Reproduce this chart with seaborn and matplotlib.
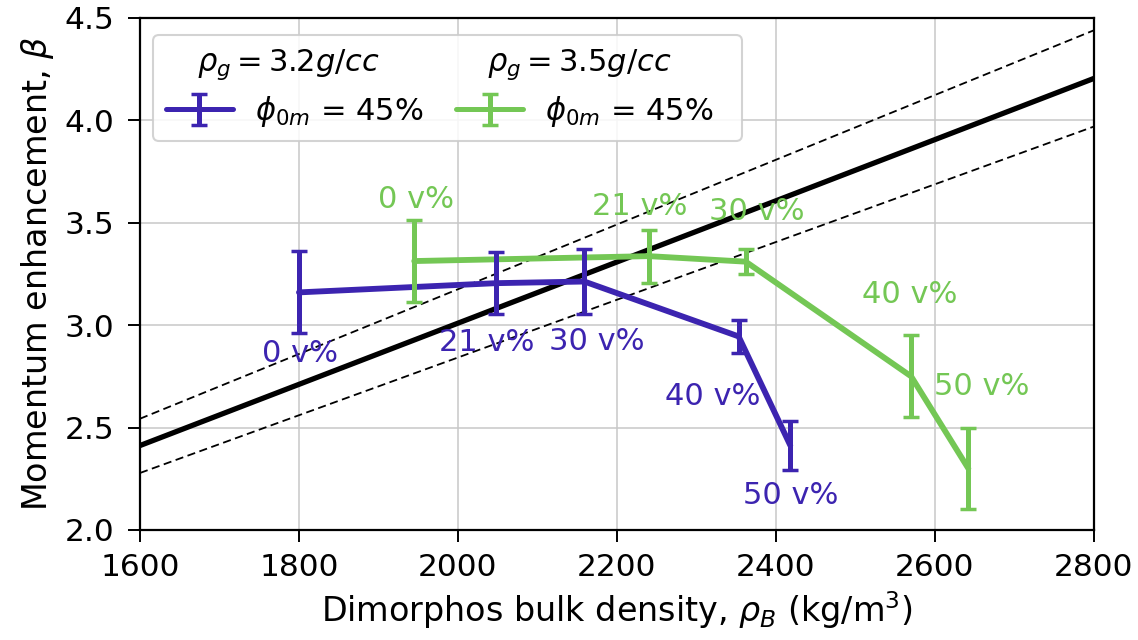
import matplotlib
matplotlib.use("Agg")
import matplotlib.pyplot as plt
import seaborn as sns
import pandas as pd
import numpy as np
from matplotlib.lines import Line2D

# ---------------- data ----------------
blue_density = [1800, 2048, 2159, 2353, 2418]
blue_beta = [3.16, 3.205, 3.213, 2.945, 2.413]
blue_err = [0.20, 0.15, 0.16, 0.08, 0.12]
blue_labels = ["0 v%", "21 v%", "30 v%", "40 v%", "50 v%"]

green_density = [1945, 2240, 2362, 2570, 2642]
green_beta = [3.313, 3.337, 3.31, 2.75, 2.30]
green_err = [0.20, 0.13, 0.06, 0.20, 0.20]
green_labels = ["0 v%", "21 v%", "30 v%", "40 v%", "50 v%"]

ref_density = [1600, 2800]
ref_beta = [2.412, 4.205]
ref_upper = [2.543, 4.44]
ref_lower = [2.278, 3.97]

xticks = [1600, 1800, 2000, 2200, 2400, 2600, 2800]
yticks = [2.0, 2.5, 3.0, 3.5, 4.0, 4.5]

BLUE = "#3C24B0"
GREEN = "#74C755"

sns.set_theme(style="whitegrid")
plt.rcParams.update({
    "font.family": ["DejaVu Sans"],
    "mathtext.fontset": "dejavusans",
    "axes.edgecolor": "black",
    "axes.linewidth": 1.6,
    "grid.color": "#c8c8c8",
    "grid.linewidth": 1.1,
    "xtick.bottom": True,
    "ytick.left": True,
    "xtick.major.size": 8.5,
    "ytick.major.size": 8.5,
    "xtick.major.width": 1.4,
    "ytick.major.width": 1.4,
    "xtick.color": "black",
    "ytick.color": "black",
    "text.color": "black",
    "axes.labelcolor": "black",
})

fig = plt.figure(figsize=(11.38, 6.4), dpi=100)
ax = fig.add_axes([0.123, 0.172, 0.9613 - 0.123, 0.9719 - 0.172])

ref = pd.DataFrame({"x": ref_density, "mid": ref_beta, "up": ref_upper, "lo": ref_lower})
sns.lineplot(data=ref, x="x", y="mid", ax=ax, color="black", lw=3.8, zorder=3)
sns.lineplot(data=ref, x="x", y="up", ax=ax, color="black", lw=1.3, ls=(0, (4.5, 2.5)), zorder=3)
sns.lineplot(data=ref, x="x", y="lo", ax=ax, color="black", lw=1.3, ls=(0, (4.5, 2.5)), zorder=3)

bdf = pd.DataFrame({"x": blue_density, "y": blue_beta})
gdf = pd.DataFrame({"x": green_density, "y": green_beta})
sns.lineplot(data=bdf, x="x", y="y", ax=ax, color=BLUE, lw=4.2, zorder=4, sort=False)
sns.lineplot(data=gdf, x="x", y="y", ax=ax, color=GREEN, lw=4.2, zorder=4, sort=False)
ax.errorbar(blue_density, blue_beta, yerr=blue_err, fmt="none", ecolor=BLUE,
            elinewidth=3.6, capsize=5.5, capthick=2.5, zorder=5)
ax.errorbar(green_density, green_beta, yerr=green_err, fmt="none", ecolor=GREEN,
            elinewidth=3.6, capsize=5.5, capthick=2.5, zorder=5)

FS_ANN = 22
blue_off = [(1, -44), (-6.5, -42.5), (8.6, -43), (-18.4, -43.6), (0, -36.4)]
green_off = [(1.2, 44), (-6.3, 36), (8, 35.8), (-1, 58.6), (9.8, 58.8)]
for x, y, t, o in zip(blue_density, blue_beta, blue_labels, blue_off):
    ax.annotate(t, (x, y), xytext=o, textcoords="offset points", ha="center",
                va="center", color=BLUE, fontsize=FS_ANN, zorder=6)
for x, y, t, o in zip(green_density, green_beta, green_labels, green_off):
    ax.annotate(t, (x, y), xytext=o, textcoords="offset points", ha="center",
                va="center", color=GREEN, fontsize=FS_ANN, zorder=6)

ax.set_xlim(1600, 2800)
ax.set_ylim(2.0, 4.5)
ax.set_xticks(xticks)
ax.set_yticks(yticks)
ax.set_xticklabels([str(v) for v in xticks])
ax.set_yticklabels([f"{v:.1f}" for v in yticks])
ax.tick_params(axis="x", labelsize=22.5, pad=8)
ax.tick_params(axis="y", labelsize=22.5, pad=10)
ax.set_xlabel(r"Dimorphos bulk density, $\rho_B$ (kg/m$^3$)", fontsize=24, labelpad=5)
ax.set_ylabel(r"Momentum enhancement, $\beta$", fontsize=24, labelpad=6)
for s in ax.spines.values():
    s.set_color("black")
    s.set_linewidth(1.6)

blank = Line2D([], [], ls="none")
hb = ax.errorbar([np.nan], [np.nan], yerr=[0.1], color=BLUE, lw=3.6, elinewidth=3.6,
                 capsize=5.5, capthick=2.5)
hg = ax.errorbar([np.nan], [np.nan], yerr=[0.1], color=GREEN, lw=3.6, elinewidth=3.6,
                 capsize=5.5, capthick=2.5)
leg = ax.legend([blank, hb, blank, hg],
                [r"$\rho_g = 3.2g/cc$", r"$\phi_{0m}$ = 45%", r"$\rho_g = 3.5g/cc$", r"$\phi_{0m}$ = 45%"],
                ncol=2, loc="upper left", bbox_to_anchor=(-0.002, 0.997), fontsize=22,
                handlelength=2.2, handletextpad=0.72, columnspacing=0.6,
                frameon=True, fancybox=True, framealpha=0.85, edgecolor="#cccccc",
                borderpad=0.4, labelspacing=0.4)
leg.get_frame().set_linewidth(1.5)
texts = leg.get_texts()
texts[0].set_x(-58)
texts[2].set_x(-58)

fig.savefig("out.png", dpi=100)
